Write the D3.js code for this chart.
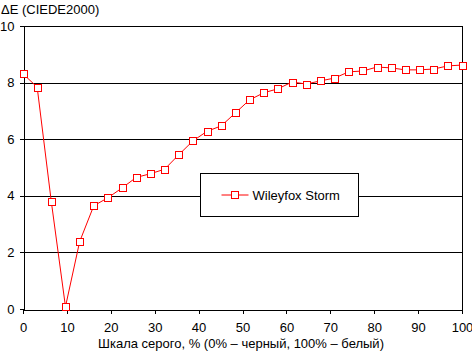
<!DOCTYPE html>
<html>
<head>
<meta charset="utf-8">
<script src="https://cdn.jsdelivr.net/npm/d3@7"></script>
<style>
    body { margin: 0; background: #fff; }
    svg { font-family: Arial, "Liberation Sans", sans-serif; }
</style>
</head>
<body>
<svg id="chart"></svg>
<script>
const seriesName = "Wileyfox Storm";
const pointCount = 32;
const deltaE = [
    8.31, 7.84, 3.79, 0.08, 2.38, 3.65, 3.93, 4.28, 4.65, 4.78,
    4.94, 5.45, 5.94, 6.28, 6.47, 6.93, 7.39, 7.64, 7.78, 8.02,
    7.95, 8.06, 8.16, 8.38, 8.41, 8.55, 8.52, 8.45, 8.45, 8.48,
    8.59, 8.62
];
const xTicks = [0, 10, 20, 30, 40, 50, 60, 70, 80, 90, 100];
const yTicks = [0, 2, 4, 6, 8, 10];
const yTitle = "ΔE (CIEDE2000)";
const xTitle = "Шкала серого, % (0% – черный, 100% – белый)";

const width = 472;
const height = 352;
const margin = {top: 26, right: 10, bottom: 43, left: 23};
const plotW = width - margin.left - margin.right;
const plotH = height - margin.top - margin.bottom;

const data = deltaE.map((v, i) => ({x: i * 100 / (pointCount - 1), y: v}));

const svg = d3.select("#chart")
    .attr("width", width)
    .attr("height", height);

const g = svg.append("g")
    .attr("transform", "translate(" + margin.left + "," + margin.top + ")");

const x = d3.scaleLinear().domain([0, 100]).range([0, plotW]);
const y = d3.scaleLinear().domain([0, 10]).range([plotH, 0]);

// horizontal gridlines
g.append("g")
    .selectAll("line")
    .data(yTicks.filter(d => d > 0))
    .join("line")
        .attr("x1", 0)
        .attr("x2", plotW)
        .attr("y1", d => Math.round(y(d)) + 0.5)
        .attr("y2", d => Math.round(y(d)) + 0.5)
        .attr("stroke", "black");

// right border
g.append("line")
    .attr("x1", plotW + 0.5)
    .attr("x2", plotW + 0.5)
    .attr("y1", Math.round(y(10)))
    .attr("y2", Math.round(y(0)) + 1)
    .attr("stroke", "black");

const xAxis = g.append("g")
    .attr("transform", "translate(0," + (Math.round(y(0)) + 0.5) + ")")
    .call(d3.axisBottom(x).tickValues(xTicks).tickSize(4).tickSizeOuter(0).tickPadding(9))
    .style("font-size", "13px")
    .style("font-family", "Arial, 'Liberation Sans', sans-serif");

const yAxis = g.append("g")
    .attr("transform", "translate(0.5,0)")
    .call(d3.axisLeft(y).tickValues(yTicks).tickSize(4).tickSizeOuter(0).tickPadding(5))
    .style("font-size", "13px")
    .style("font-family", "Arial, 'Liberation Sans', sans-serif");

svg.selectAll(".domain, .tick line").attr("stroke", "black").attr("shape-rendering", "crispEdges");
svg.selectAll(".tick text").attr("fill", "black");

const line = d3.line()
    .x(d => x(d.x))
    .y(d => y(d.y));

g.append("path")
    .datum(data)
    .attr("d", line)
    .attr("fill", "none")
    .attr("stroke", "red")
    .attr("stroke-width", 1);

const ms = 7;
g.append("g")
    .selectAll("rect")
    .data(data)
    .join("rect")
        .attr("x", d => Math.round(x(d.x) - ms / 2) + 0.5)
        .attr("y", d => Math.round(y(d.y) - ms / 2) + 0.5)
        .attr("width", ms)
        .attr("height", ms)
        .attr("fill", "white")
        .attr("stroke", "red")
        .attr("stroke-width", 1);

// legend
const legend = svg.append("g").attr("transform", "translate(200.5,173.5)");
legend.append("rect")
    .attr("width", 158)
    .attr("height", 43)
    .attr("fill", "white")
    .attr("stroke", "black");
legend.append("line")
    .attr("x1", 21).attr("x2", 48)
    .attr("y1", 21.5).attr("y2", 21.5)
    .attr("stroke", "red");
legend.append("rect")
    .attr("x", 31).attr("y", 18)
    .attr("width", ms).attr("height", ms)
    .attr("fill", "white")
    .attr("stroke", "red");
legend.append("text")
    .attr("x", 52)
    .attr("y", 26)
    .style("font-size", "13px")
    .text(seriesName);

svg.append("text")
    .attr("x", 1)
    .attr("y", 14)
    .style("font-size", "13px")
    .text(yTitle);

svg.append("text")
    .attr("x", 241)
    .attr("y", 348)
    .attr("text-anchor", "middle")
    .style("font-size", "13px")
    .text(xTitle);
</script>
</body>
</html>
